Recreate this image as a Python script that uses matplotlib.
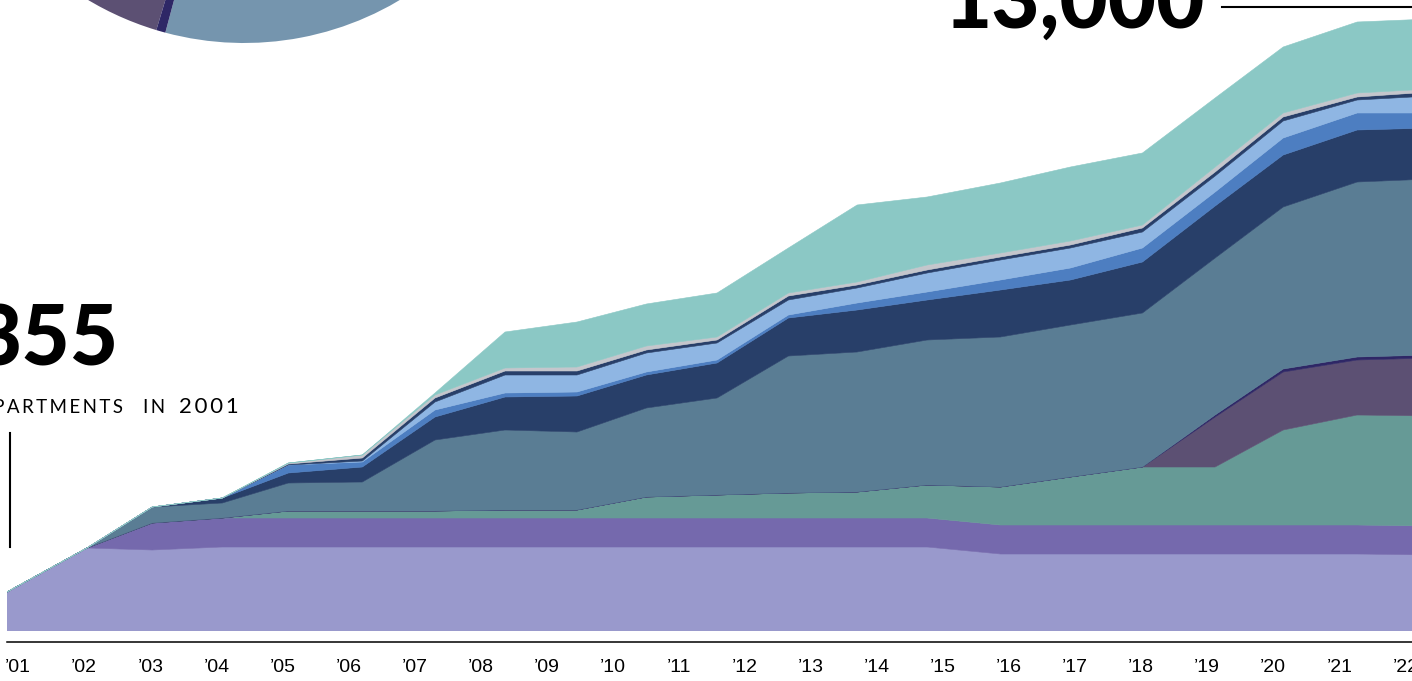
import numpy as np
import matplotlib.pyplot as plt
from matplotlib.lines import Line2D

# sample dates (decimal years) and stacked values in apartments, bottom -> top
sample_dates = [2000.83, 2002.04, 2003.03, 2004.09, 2005.09, 2006.21, 2007.31,
                2008.37, 2009.46, 2010.51, 2011.58, 2012.66, 2013.70, 2014.76,
                2015.87, 2016.93, 2018.02, 2019.12, 2020.15, 2021.27, 2022.38]
tick_years = list(range(2001, 2023))
tick_labels = ["\u2019%02d" % (y - 2000) for y in tick_years]

lavender = [780, 1660, 1620, 1680, 1680, 1680, 1680, 1680, 1680, 1680, 1680,
            1680, 1680, 1680, 1540, 1540, 1540, 1540, 1540, 1540, 1520]
purple = [0, 0, 540, 580, 580, 580, 580, 580, 580, 580, 580,
          580, 580, 580, 580, 580, 580, 580, 580, 580, 580]
green = [0, 0, 0, 0, 140, 140, 140, 160, 160, 420, 460,
         500, 520, 660, 760, 960, 1160, 1160, 1900, 2200, 2200]
plum = [0] * 17 + [1000, 1160, 1100, 1160]
plum_edge = [0] * 17 + [40, 60, 60, 60]
slate = [0, 0, 320, 300, 560, 580, 1420, 1600, 1560, 1780, 1940,
         2740, 2800, 2900, 3000, 3040, 3080, 3140, 3240, 3500, 3520]
navy = [0, 0, 0, 100, 200, 300, 460, 660, 720, 660, 700,
        760, 840, 800, 940, 900, 1020, 1040, 1040, 1040, 1020]
midblue = [0, 0, 0, 0, 160, 100, 140, 80, 80, 60, 60,
           60, 140, 160, 200, 240, 280, 280, 340, 340, 300]
lightblue = [0, 0, 0, 0, 0, 20, 160, 360, 340, 380, 340,
             300, 300, 380, 400, 400, 320, 320, 340, 260, 340]
navy_thin = [0, 0, 0, 0, 20, 60, 80, 80, 80, 60, 60,
             80, 60, 60, 60, 60, 80, 80, 80, 60, 80]
grey = [0, 0, 0, 0, 20, 60, 60, 60, 80, 80, 60,
        60, 60, 100, 80, 80, 60, 100, 80, 80, 60]
mint = [0, 0, 0, 0, 0, 0, 40, 720, 900, 840, 880,
        900, 1540, 1360, 1400, 1480, 1440, 1380, 1320, 1420, 1400]

layers = [lavender, purple, green, plum, plum_edge, slate, navy,
          midblue, lightblue, navy_thin, grey, mint]
colors = ["#9999cc", "#7569ad", "#669a96", "#5c5073", "#2e2766", "#5a7d94",
          "#283f69", "#4d7ec1", "#8fb6e3", "#283f69", "#c4c6cc", "#8bc8c5"]

fig = plt.figure(figsize=(14.12, 6.81), dpi=100)

# main stacked area chart
ax = fig.add_axes([7 / 1412, 50 / 681, 1405 / 1412, 631 / 681])
polys = ax.stackplot(sample_dates, *layers, colors=colors, linewidth=0)
for p in polys:
    p.set_edgecolor(p.get_facecolor())
    p.set_linewidth(0.4)
ax.set_xlim(2000.83, 2022.10)
ax.set_ylim(0, 12620)
for s in ["top", "right", "left"]:
    ax.spines[s].set_visible(False)
ax.spines["bottom"].set_position(("outward", 8))
ax.spines["bottom"].set_linewidth(1.1)
ax.set_yticks([])
ax.set_xticks(tick_years)
ax.set_xticklabels(tick_labels, fontsize=14,
                   family=["Liberation Sans Narrow", "Liberation Sans", "DejaVu Sans"])
ax.tick_params(axis="x", length=0, pad=12)

# pie (mostly off the top of the picture), 2022 composition
pie_order = [5, 6, 7, 8, 9, 10, 11, 0, 1, 2, 3, 4]
pie_values = [layers[i][-1] for i in pie_order]
pie_colors = ["#7595ae", "#3b5580", "#6690c8", "#a3c3e8", "#3b5580", "#d0d2d6",
              "#a0d3d0", "#adadd6", "#8a80bb", "#7fadaa", "#5c5073", "#2e2766"]
pax = fig.add_axes([-60 / 1412, 638 / 681, 608 / 1412, 608 / 681])
pax.pie(pie_values, colors=pie_colors, startangle=-105, radius=1,
        wedgeprops=dict(linewidth=0))
pax.set_xlim(-1, 1)
pax.set_ylim(-1, 1)
pax.axis("off")

# big numbers and captions
big = dict(fontsize=60, fontweight="black", family=["Lato", "DejaVu Sans"])
fig.text(1205 / 1412, 1 - 28 / 681, "13,000", ha="right", va="baseline", **big)
fig.text(119 / 1412, 1 - 366 / 681, "355", ha="right", va="baseline", **big)

small = dict(va="baseline", fontweight="normal", family=["Lato", "DejaVu Sans"])
fig.text(123 / 1412, 1 - 413 / 681, "\u2009".join("APARTMENTS"), ha="right",
         fontsize=13.5, **small)
fig.text(143 / 1412, 1 - 413 / 681, "\u2009".join("IN"), ha="left",
         fontsize=13.5, **small)
fig.text(179 / 1412, 1 - 413 / 681, "\u2009".join("2001"), ha="left",
         fontsize=16, **small)

fig.add_artist(Line2D([10 / 1412, 10 / 1412], [1 - 433 / 681, 1 - 547 / 681],
                      color="black", lw=1.5))
fig.add_artist(Line2D([1222 / 1412, 1.0], [1 - 7 / 681, 1 - 7 / 681],
                      color="black", lw=1.5))

fig.savefig("out.png", dpi=100)
